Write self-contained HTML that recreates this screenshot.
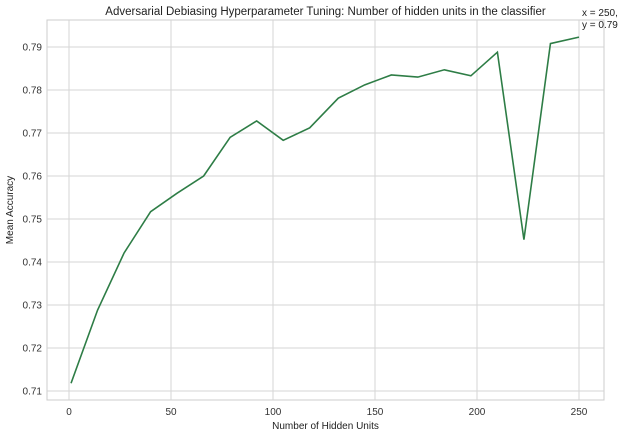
<!DOCTYPE html>
<html><head><meta charset="utf-8"><style>
body{margin:0;background:#fff;width:627px;height:437px;overflow:hidden;font-family:"Liberation Sans",sans-serif}
</style></head><body>
<svg id="c" width="627" height="437" style="position:absolute;left:0;top:0;overflow:hidden"></svg>
<script>
const xs=[1,14,27,40,53,66,79,92,105,118,132,145,158,171,184,197,210,223,236,250];
const ys=[0.7118,0.7288,0.7421,0.7517,0.7560,0.7600,0.7690,0.7728,0.7683,0.7712,0.7781,0.7812,0.7835,0.7830,0.7847,0.7833,0.7888,0.7452,0.7908,0.7923];
const xTicks=[0,50,100,150,200,250];
const yTicks=[0.71,0.72,0.73,0.74,0.75,0.76,0.77,0.78,0.79];
const L=47,R=604,T=20,B=400;
const sx=v=>69+v*(579-69)/250;
const sy=v=>391-(v-0.71)*(391-47)/0.08;
const svg=document.getElementById('c');
const NS='http://www.w3.org/2000/svg';
function mk(t,a,txt){const e=document.createElementNS(NS,t);for(const k in a)e.setAttribute(k,a[k]);if(txt!==undefined)e.textContent=txt;svg.appendChild(e);return e;}
let e=mk('rect',{x:L,y:T,width:R-L,height:B-T,fill:'#fff',stroke:'#ccc','stroke-width':1});


xTicks.forEach(v=>{
 let g=mk('line',{x1:sx(v),x2:sx(v),y1:T,y2:B,stroke:'#d5d5d5'});
 
 
 let t=mk('text',{x:sx(v),y:B+15,'font-size':10,'text-anchor':'middle',fill:'#333'},String(v));
 
 
});
yTicks.forEach(v=>{
 let g=mk('line',{x1:L,x2:R,y1:sy(v),y2:sy(v),stroke:'#d5d5d5'});
 
 
 let t=mk('text',{x:L-5,y:sy(v)+3.5,'font-size':10,'text-anchor':'end',fill:'#333'},v.toFixed(2));
 
 
});
let p=mk('polyline',{points:xs.map((x,i)=>sx(x)+','+sy(ys[i])).join(' '),fill:'none',stroke:'#2e7d46','stroke-width':1.6});


let tt=mk('text',{x:(L+R)/2,y:15,'font-size':11.5,'text-anchor':'middle',fill:'#222'},'Adversarial Debiasing Hyperparameter Tuning: Number of hidden units in the classifier');


let xl=mk('text',{x:(L+R)/2,y:429,'font-size':10,'text-anchor':'middle',fill:'#222'},'Number of Hidden Units');


let yl=mk('text',{x:0,y:0,'font-size':10,'text-anchor':'middle',fill:'#222',transform:'translate(13,'+((T+B)/2)+') rotate(-90)'},'Mean Accuracy');


let a1=mk('text',{x:582,y:16,'font-size':10,fill:'#222'},'x = 250,');


let a2=mk('text',{x:582,y:28,'font-size':10,fill:'#222'},'y = 0.79');


</script>
</body></html>
